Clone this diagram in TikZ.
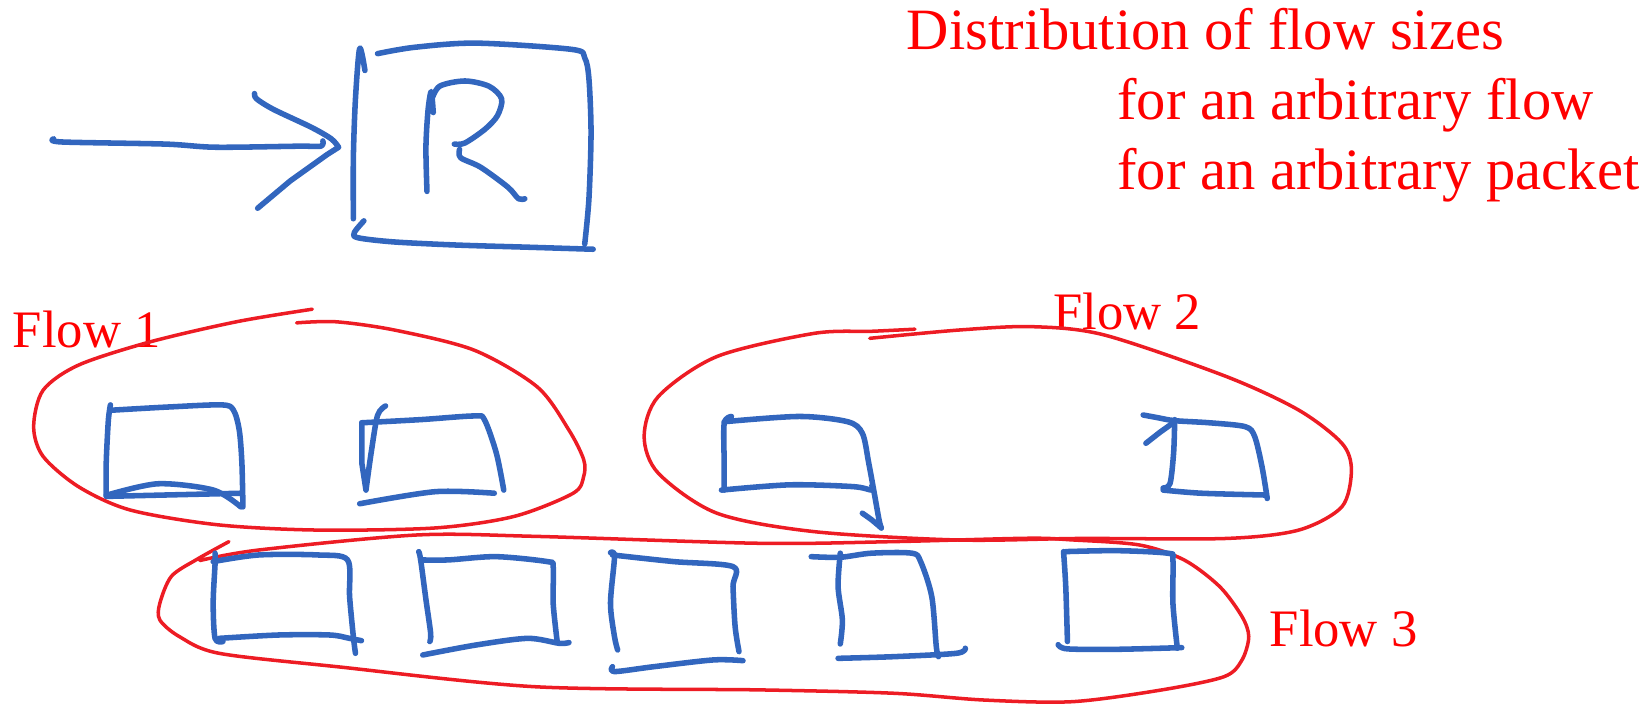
\documentclass[tikz,border=0pt]{standalone}
\usepackage{fontspec}
\setmainfont{Liberation Serif}
\definecolor{inkblue}{RGB}{50,102,190}
\definecolor{inkred}{RGB}{237,28,36}
\definecolor{txtred}{RGB}{255,0,0}
\begin{document}
\begin{tikzpicture}[x=0.02cm,y=-0.02cm,
  ink/.style={draw=inkblue,line width=3pt,line cap=round,line join=round},
  loopline/.style={draw=inkred,line width=1.9pt,line cap=round,line join=round},
  bigtxt/.style={text=txtred,anchor=base west,inner sep=0pt,font=\fontsize{31.7}{38}\selectfont},
  flowtxt/.style={text=txtred,anchor=base west,inner sep=0pt,font=\fontsize{28.5}{34}\selectfont}]
\useasboundingbox (0,0) rectangle (1568,670);

% texts
\node[bigtxt] (title) at (862,47) {Distribution of flow sizes};
\node[bigtxt] (subA) at (1062,114) {for an arbitrary flow};
\node[bigtxt] (subB) at (1062,180) {for an arbitrary packet};
\node[flowtxt] (fone) at (12,330) {Flow 1};
\node[flowtxt] (ftwo) at (1001,313) {Flow 2};
\node[flowtxt] (fthree) at (1207,615) {Flow 3};

% arrow
\draw[ink] plot[smooth] coordinates {(51,132) (59,135) (157,137) (205,140) (284,139) (305,139) (307,134)};
\draw[ink] plot[smooth] coordinates {(242,89) (244,94) (260,104) (296,121) (315,132) (322,140)} -- (311,147) -- (276,172) -- (245,198);

% router box
\draw[ink] plot[smooth] coordinates {(347,67) (342,46) (338,94) (336,150) (336,208)};
\draw[ink] plot[smooth] coordinates {(359,51) (394,45) (453,41) (544,47) (556,55) (560,75) (562,126) (560,189) (556,232)};
\draw[ink] plot[smooth] coordinates {(346,210) (337,221) (340,226) (374,230) (434,233) (500,235) (564,237)};
% R
\draw[ink] plot[smooth] coordinates {(406,182) (405,140) (407,105) (410,87) (412,107)};
\draw[ink] plot[smooth] coordinates {(410,96) (418,82) (442,77) (465,82) (477,94) (473,110) (461,123) (442,136) (432,137)};
\draw[ink] plot[smooth] coordinates {(437,142) (438,150) (457,159) (483,178) (493,189) (499,189)};

% flow 1 loop
\draw[loopline] plot[smooth] coordinates {(297,294) (225.6,305.8) (143,325) (75,347) (41,371) (32,405.7) (41,434) (75,463) (124,485) (207,499) (301,504) (414,502) (489,491) (545,469) (555,453) (555,437) (541,409) (511,368) (451,333) (376,314) (320,306) (282,307)};
% flow 1 packets
\draw[ink] plot[smooth] coordinates {(105,385) (103,400) (101,440) (101,471)};
\draw[ink] plot[smooth] coordinates {(107,390) (160,387) (211,385) (222,390) (227.5,409) (230,440) (231,482)};
\draw[ink] plot[smooth] coordinates {(101,471) (150,460) (203,466) (229,482)};
\draw[ink] (101,472) -- (229,469);
\draw[ink] plot[smooth] coordinates {(366.6,386) (359,395) (353,430) (348,466)} -- (344,440) -- (344,402);
\draw[ink] plot[smooth] coordinates {(344,402) (400,399) (451,395.5) (460.6,399) (472,431) (479,466)};
\draw[ink] plot[smooth] coordinates {(342,479) (414,467.5) (470,469)};

% flow 2 loop
\draw[loopline] plot[smooth] coordinates {(827,321.7) (912,313.8) (981,310.6) (1050,318.5) (1166,358) (1235,390) (1276,421.5) (1285,447) (1276,481.8) (1235,504) (1166,512) (1027,512) (912,513.5) (774,505.5) (681.7,488) (626,450) (612.5,415) (626,377) (681.7,339) (774,317) (829,315) (870,313)};
% flow 2 packets
\draw[ink] plot[smooth] coordinates {(695.5,396) (688.6,402.5) (688.6,440) (688.6,466)};
\draw[ink] plot[smooth] coordinates {(688.6,401) (760,396) (806,401) (820,412) (826,440) (831.5,470) (836,495) (838,502)};
\draw[ink] plot[smooth] coordinates {(686,466) (751,461) (811,462.7) (829,466) (829,462)};
\draw[ink] plot[smooth] coordinates {(820,488) (829,494.4) (838,502)};
\draw[ink] (1089.6,421.5) -- (1103,411) -- (1115,402.5);
\draw[ink] plot[smooth] coordinates {(1087,394.6) (1100,397) (1117,400) (1150,402) (1184,405.7) (1193,415) (1200,443.7) (1205,474)};
\draw[ink] plot[smooth] coordinates {(1117,399) (1116,430) (1112.6,459.6) (1106,464)};
\draw[ink] plot[smooth] coordinates {(1106,466) (1142.6,469) (1203,470.7)};

% flow 3 loop
\draw[loopline] plot[smooth] coordinates {(217.7,515) (187,532) (163,548) (152,573.6) (152,589.5) (170.7,605.4) (208.3,621.2) (321,634) (509,653) (722.7,656) (850,659.2) (935,665.6) (1019.8,667.2) (1104.7,656) (1164,643.4) (1181,627.5) (1187.4,605.4) (1181,586.3) (1159.8,557.8) (1125.9,532.4) (1083.4,518.2) (1019.8,513.4) (977.3,511.8) (850,515) (722.6,516.6) (509,510) (396.3,508.7) (245.9,523) (190,533)};
% flow 3 packets
\draw[ink] plot[smooth] coordinates {(204.5,526) (204.5,536) (202.7,573.6) (204.5,607) (212,610)};
\draw[ink] plot[smooth] coordinates {(202.7,534) (245.9,527.7) (302.3,527.7) (330.5,532.4) (332.4,567.3) (336,605.4) (338,621.2)};
\draw[ink] plot[smooth] coordinates {(208.3,607) (264.7,603.8) (313.6,603.8) (332.4,607) (343.7,609.2)};

\draw[ink] plot[smooth] coordinates {(398.2,524.5) (400,532.4) (405,570) (409.5,602.2) (408.7,610)};
\draw[ink] plot[smooth] coordinates {(400,532.4) (426.4,532.4) (471.5,529.3) (520.4,534) (526,538.8) (526,573.6) (529.8,610)};
\draw[ink] plot[smooth] coordinates {(402,622.8) (452.7,613.3) (501.6,607) (531.7,611.7) (541,611)};

\draw[ink] plot[smooth] coordinates {(580.5,525.5) (584.3,529.3) (580.5,573.6) (584.3,605.4) (587.3,618)};
\draw[ink] plot[smooth] coordinates {(582.4,527.7) (640.7,534) (697,538.8) (697,557.8) (699,595.8) (702.7,619.6)};
\draw[ink] plot[smooth] coordinates {(582.4,633.9) (584.3,638.6) (621.9,633.9) (678.3,627.5) (706.5,628.2)};

\draw[ink] plot[smooth] coordinates {(771.4,529.3) (799,529.9) (828.7,526) (867,526) (875.4,534) (886,567.3) (890.3,614.9) (892.4,624.4)};
\draw[ink] plot[smooth] coordinates {(799,526) (796.9,557.8) (801,589.5) (799,612.3)};
\draw[ink] plot[smooth] coordinates {(796.9,626) (850,624.4) (909.4,621.2) (917.9,616.4)};

\draw[ink] plot[smooth] coordinates {(1011.3,524.5) (1013.4,557.8) (1015,610)};
\draw[ink] plot[smooth] coordinates {(1006.2,613) (1015,617) (1062.2,617.4) (1123.7,615.8)};
\draw[ink] plot[smooth] coordinates {(1013.4,524.5) (1062.2,523.6) (1111,526.1) (1115.3,532.4) (1115.3,573.6) (1119.5,616.4)};
\end{tikzpicture}
\end{document}
